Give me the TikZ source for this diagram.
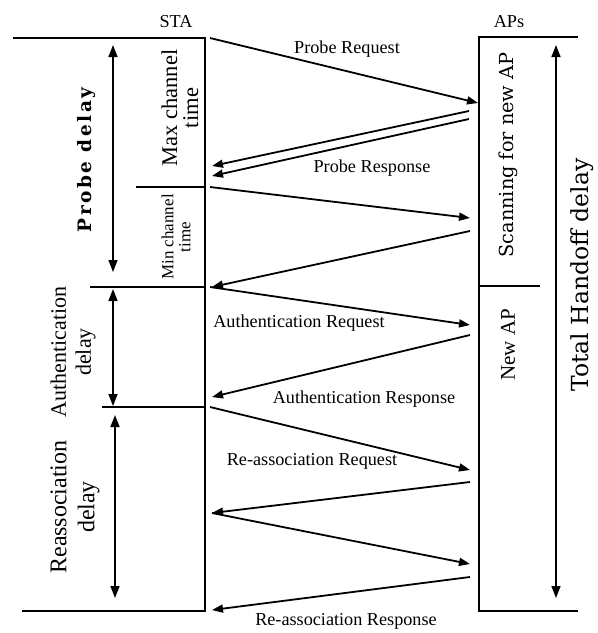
\documentclass[tikz,border=0pt]{standalone}
\usepackage{fontspec}
\setmainfont{Liberation Serif}
\newfontfamily\wideserif{DejaVu Serif}
\newfontfamily\spacedserif[LetterSpace=14]{DejaVu Serif}
\usepackage{tikz}
\usetikzlibrary{arrows.meta}

\begin{document}
\begin{tikzpicture}[x=1pt, y=-1pt, line width=1.2pt,
  msg/.style={-{Triangle[length=11pt,width=8pt]}, line width=1.8pt},
  span/.style={{Triangle[length=12pt,width=9pt]}-{Triangle[length=12pt,width=9pt]}, line width=1.6pt},
  lbl/.style={font=\fontsize{18.2}{20}\selectfont, inner sep=0pt},
  vlbl/.style={rotate=90, align=center, inner sep=0pt}]
\useasboundingbox (0,0) rectangle (598,633);

% lifelines
\coordinate (staT) at (205,38);
\coordinate (staB) at (205,611);
\coordinate (apT) at (479,37);
\coordinate (apB) at (479,611);
\draw (13,38) -- (staT) -- (staB) -- (22,611);
\draw (578,37) -- (apT) -- (apB) -- (578,611);
\draw (136,187) -- (205,187);
\draw (90,287) -- (205,287);
\draw (102,407) -- (205,407);
\draw (479,286) -- (540,286);

\node[lbl] (sta) at (176,22) {STA};
\node[lbl] (aps) at (509,22) {APs};

% messages
\coordinate (s1) at (210,38);   \coordinate (a1) at (478,103);
\coordinate (a2) at (469,111);  \coordinate (s2) at (212,166);
\coordinate (a3) at (469,119);  \coordinate (s3) at (212,176);
\coordinate (s4) at (210,187);  \coordinate (a4) at (470,218);
\coordinate (a5) at (470,231);  \coordinate (s5) at (212,287);
\coordinate (s6) at (210,287);  \coordinate (a6) at (470,325);
\coordinate (a7) at (470,335);  \coordinate (s7) at (212,397);
\coordinate (s8) at (210,407);  \coordinate (a8) at (470,470);
\coordinate (a9) at (470,482);  \coordinate (s9) at (212,513);
\coordinate (s10) at (212,513); \coordinate (a10) at (470,564);
\coordinate (a11) at (470,577); \coordinate (s11) at (212,610);
\draw[msg] (s1) -- (a1);
\draw[msg] (a2) -- (s2);
\draw[msg] (a3) -- (s3);
\draw[msg] (s4) -- (a4);
\draw[msg] (a5) -- (s5);
\draw[msg] (s6) -- (a6);
\draw[msg] (a7) -- (s7);
\draw[msg] (s8) -- (a8);
\draw[msg] (a9) -- (s9);
\draw[msg] (s10) -- (a10);
\draw[msg] (a11) -- (s11);

\node[lbl] (preq) at (347,49) {Probe Request};
\node[lbl] (pres) at (372,168) {Probe Response};
\node[lbl] (areq) at (299,323) {Authentication Request};
\node[lbl] (ares) at (364,399) {Authentication Response};
\node[lbl] (rreq) at (312,461) {Re-association Request};
\node[lbl] (rres) at (346,621) {Re-association Response};

% delays
\coordinate (pd1) at (113,45);  \coordinate (pd2) at (113,272);
\coordinate (ad1) at (113,289); \coordinate (ad2) at (113,406);
\coordinate (rd1) at (115,415); \coordinate (rd2) at (115,598);
\coordinate (td1) at (556,45);  \coordinate (td2) at (556,598);
\draw[span] (pd1) -- (pd2);
\draw[span] (ad1) -- (ad2);
\draw[span] (rd1) -- (rd2);
\draw[span] (td1) -- (td2);

\node[vlbl, font=\spacedserif\bfseries\fontsize{18.5}{20}\selectfont] (probe) at (87,160) {Probe delay};
\node[vlbl, font=\fontsize{22.5}{21}\selectfont] (maxch) at (180,108) {Max channel\\time};
\node[vlbl, font=\fontsize{17}{17}\selectfont] (minch) at (176,237) {Min channel\\time};
\node[vlbl, font=\fontsize{22}{25}\selectfont] (auth) at (73,352) {Authentication\\delay};
\node[vlbl, font=\fontsize{24}{28}\selectfont] (reas) at (75,507) {Reassociation\\delay};
\node[vlbl, font=\wideserif\fontsize{19.3}{20}\selectfont] (scan) at (508,155) {Scanning for new AP};
\node[vlbl, font=\fontsize{21}{21}\selectfont] (newap) at (508,345) {New AP};
\node[vlbl, font=\wideserif\fontsize{23.5}{24}\selectfont] (total) at (582,275) {Total Handoff delay};
\end{tikzpicture}
\end{document}
